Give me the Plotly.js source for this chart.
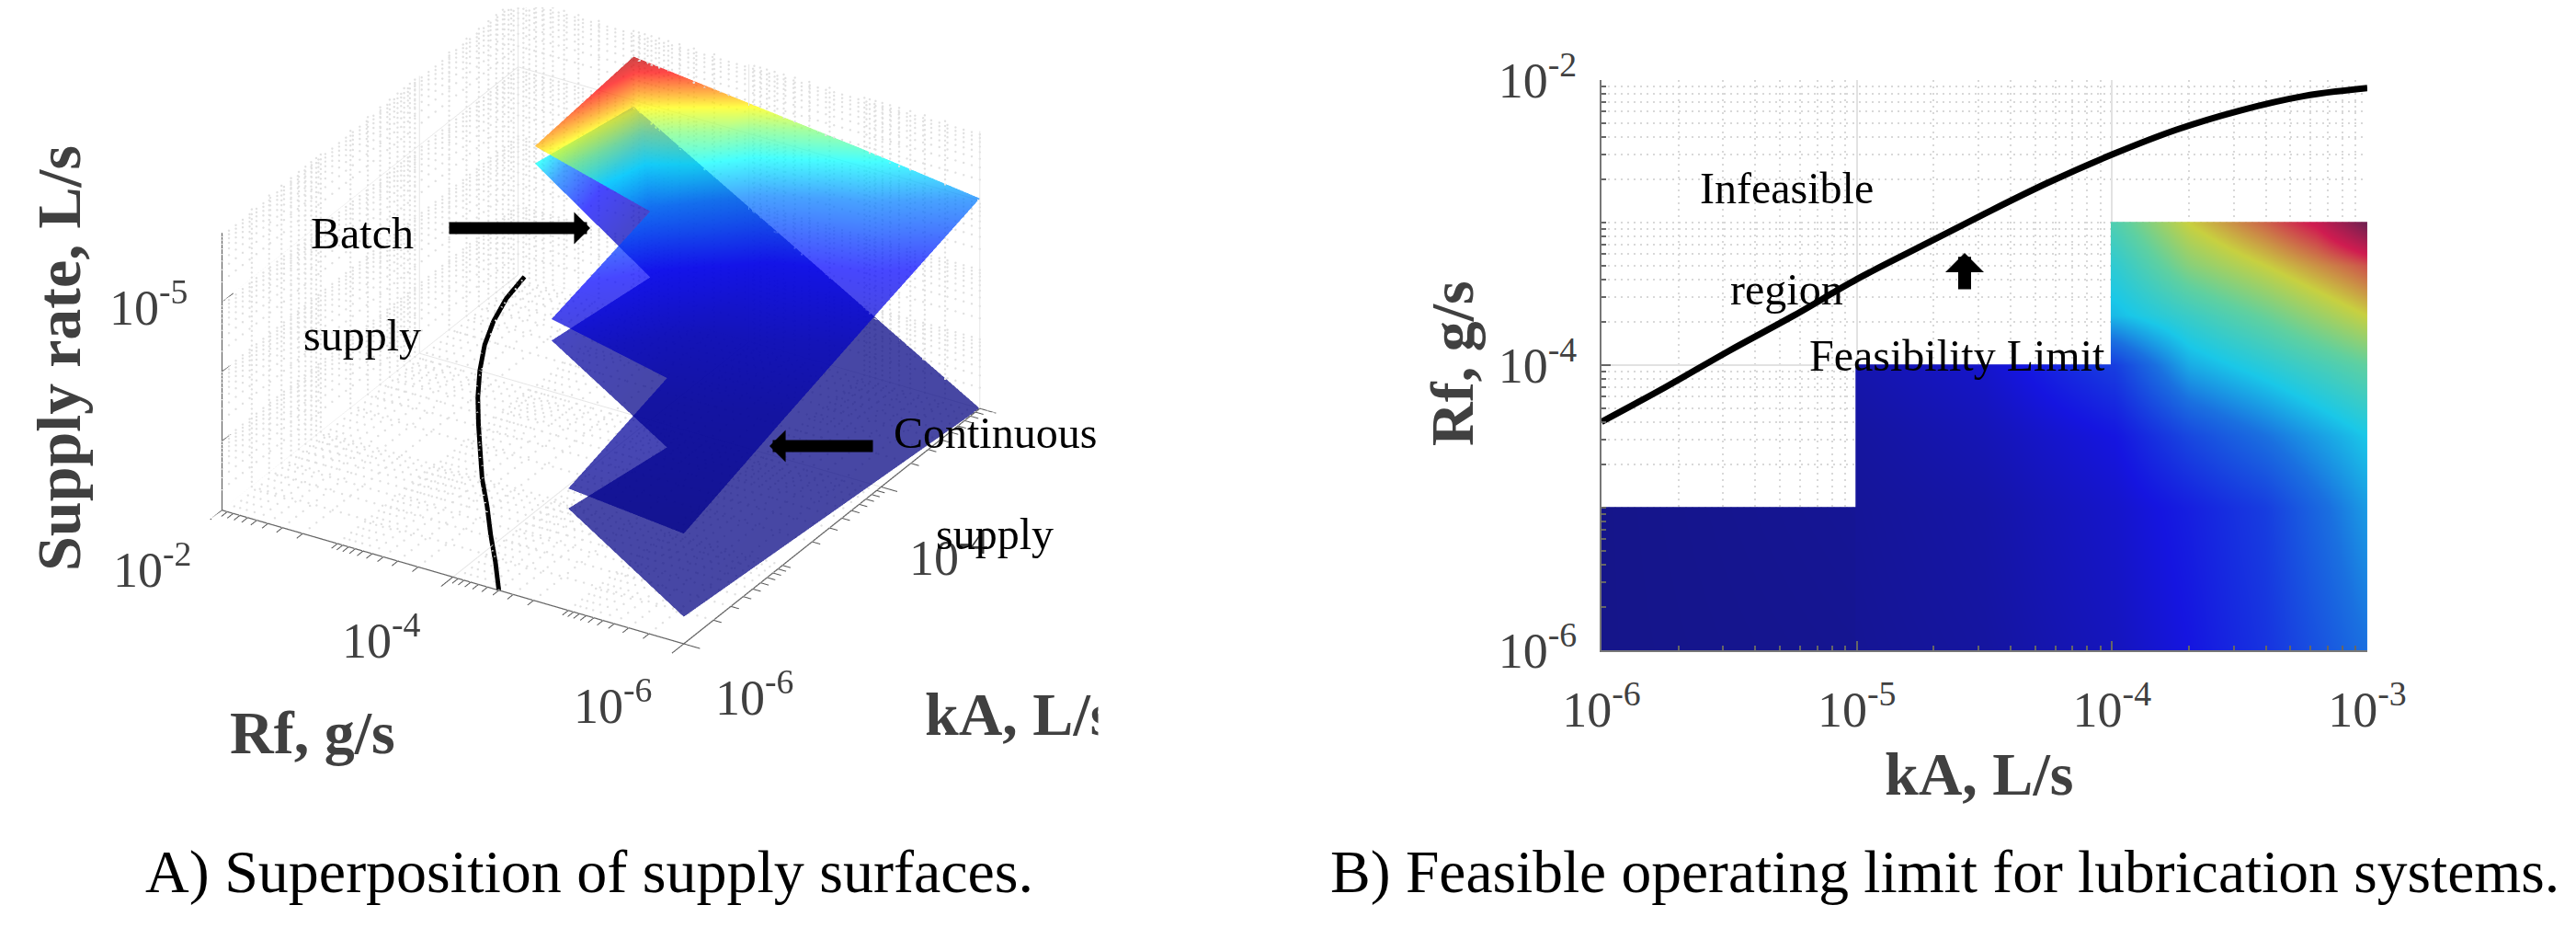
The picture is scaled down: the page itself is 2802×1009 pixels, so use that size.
<!DOCTYPE html>
<html><head><meta charset="utf-8">
<script src="https://cdn.plot.ly/plotly-3.0.1.min.js"></script>
<style>html,body{margin:0;padding:0;background:#fff}#c{width:2802px;height:1009px}</style>
</head><body><div id="c"></div>
<script>
// ---- limit curve (both panels)
const limitKA = [1e-6,1.78e-6,3.16e-6,5.6e-6,1e-5,1.78e-5,3.16e-5,5.6e-5,1e-4,1.8e-4,3.16e-4,5.6e-4,1e-3];
const limitRf = [4e-5,7e-5,1.26e-4,2.2e-4,4e-4,6.8e-4,1.15e-3,1.9e-3,3e-3,4.5e-3,6.1e-3,7.7e-3,8.8e-3];
// ---- panel A surfaces: vertices as decade exponents
const nodeKA = [-6,-5,-4,-3,-6,-5,-4,-3,-5,-4,-3,-4,-3];
const nodeRf = [-6,-6,-6,-6,-5,-5,-5,-5,-4,-4,-4,-3,-3];
const upperRate = [-6.41,-5.91,-5.43,-4.97,-6.24,-5.78,-5.28,-4.75,-5.41,-4.99,-4.56,-4.53,-4.37];
const lowerRate = [-7.61,-7.74,-7.87,-8.0,-6.53,-6.78,-6.91,-7.03,-5.72,-5.94,-6.06,-4.78,-5.09];
const triI = [0,0,1,1,2,2,5,5,6,6,9,9];
const triJ = [1,5,2,6,3,7,6,9,7,10,10,12];
const triK = [5,4,6,5,7,6,9,8,10,9,12,11];
const surfaceScale = [[0,'#00007f'],[0.44,'#000088'],[0.585,'#00009f'],[0.668,'#0000bf'],[0.752,'#0000ff'],[0.835,'#007fff'],[0.883,'#00ffff'],[0.917,'#7fff7f'],[0.944,'#ffff00'],[0.966,'#ff7f00'],[0.984,'#ff0000'],[1,'#c00000']];
// ---- panel B map: colour position on stair treads
const treadAx = [-6,-5.01,-5], treadAy = [-6,-5.01,-5];
const treadAz = [[0,0.01,0.015],[0,0.015,0.02],[0,0.015,0.02]];
const treadBx = [-5,-4.99,-4.5,-4], treadBy = [-6,-5,-4.5,-4.01,-4];
const treadBz = [[0.015,0.015,0.03,0.07],[0.02,0.02,0.04,0.09],[0.03,0.03,0.06,0.12],[0.05,0.05,0.09,0.20],[0.05,0.05,0.09,0.20]];
const treadCx = [-4,-3.99,-3.7,-3.4,-3.2,-3];
const treadCy = [-6,-5,-4.5,-4,-3.65,-3.3,-3.01,-3];
const treadCz = [
 [0.07,0.07,0.12,0.18,0.24,0.30],
 [0.09,0.09,0.14,0.20,0.28,0.36],
 [0.12,0.12,0.22,0.30,0.36,0.42],
 [0.20,0.20,0.38,0.45,0.50,0.55],
 [0.40,0.40,0.48,0.56,0.62,0.68],
 [0.46,0.46,0.60,0.68,0.74,0.80],
 [0.52,0.52,0.68,0.78,0.86,1.0],
 [0.52,0.52,0.68,0.78,0.86,1.0]];
const mapScale = [[0,'#15158a'],[0.12,'#1515e0'],[0.3,'#1a70e0'],[0.42,'#1ac8e8'],[0.55,'#60d0a0'],[0.68,'#c8d040'],[0.85,'#d01c50'],[1,'#702050']];
// ---- ticks
const decadeB = ['10<sup>-6</sup>','10<sup>-5</sup>','10<sup>-4</sup>','10<sup>-3</sup>'];
const rfTicksB = ['10<sup>-6</sup>','10<sup>-4</sup>','10<sup>-2</sup>'];
const mult = [2,3,4,5,6,7,8,9];
const kaDec = [-6,-5,-4], rfDec = [-6,-5,-4,-3], zDec = [-8,-7,-6,-5];

const W=2802,H=1009, px=x=>x/W, py=y=>1-y/H;
const P=e=>Math.pow(10,e);
function minors(decs,extra){const o=(extra||[]).slice();decs.forEach(d=>mult.forEach(m=>o.push(m*P(d))));return o;}
const kaM=minors(kaDec,[1e-5]), rfM=minors(rfDec,[1e-5,1e-3]), zM=minors(zDec,[1e-7,1e-6]);
const kaR=[1e-6,1e-3], rfR=[1e-6,1e-2], zR=[1e-8,1e-4];
function polyset(){const s={x:[],y:[],z:[],add(a,b){this.x.push(a[0],b[0],null);this.y.push(a[1],b[1],null);this.z.push(a[2],b[2],null);}};return s;}
const solid=polyset(), ticks=polyset();
// dotted minor grid on floor and the two back walls, as rows of dots
const dots={x:[],y:[],z:[]};
function dotRow(a,b){ // a,b are decade exponents
 const n=Math.round(Math.max(Math.abs(b[0]-a[0]),Math.abs(b[1]-a[1]),Math.abs(b[2]-a[2]))/0.07);
 for(let i=0;i<=n;i++){const t=i/n;dots.x.push(P(a[0]+t*(b[0]-a[0])));dots.y.push(P(a[1]+t*(b[1]-a[1])));dots.z.push(P(a[2]+t*(b[2]-a[2])));}
}
const L=Math.log10;
rfM.forEach(r=>dotRow([-6,L(r),-8],[-3,L(r),-8]));
kaM.forEach(k=>dotRow([L(k),-6,-8],[L(k),-2,-8]));
kaM.forEach(k=>dotRow([L(k),-2,-8],[L(k),-2,-4]));
zM.forEach(z=>dotRow([-6,-2,L(z)],[-3,-2,L(z)]));
rfM.forEach(r=>dotRow([-3,L(r),-8],[-3,L(r),-4]));
zM.forEach(z=>dotRow([-3,-6,L(z)],[-3,-2,L(z)]));
// solid major grid
[1e-4,1e-2].forEach(r=>solid.add([kaR[0],r,zR[0]],[kaR[1],r,zR[0]]));
[1e-4,1e-3].forEach(k=>solid.add([k,rfR[0],zR[0]],[k,rfR[1],zR[0]]));
[1e-4,1e-3].forEach(k=>solid.add([k,rfR[1],zR[0]],[k,rfR[1],zR[1]]));
[1e-4,1e-6].forEach(r=>solid.add([kaR[1],r,zR[0]],[kaR[1],r,zR[1]]));
solid.add([kaR[0],rfR[1],1e-5],[kaR[1],rfR[1],1e-5]);
solid.add([kaR[1],rfR[0],1e-5],[kaR[1],rfR[1],1e-5]);
// axis ticks, pointing out of the box
const kaOut=[-6.12,-6.06], rfOut=[-6.14,-6.07];
[1e-2,1e-4,1e-6].forEach(r=>ticks.add([kaR[0],r,zR[0]],[P(kaOut[0]),r,zR[0]]));
rfM.forEach(r=>ticks.add([kaR[0],r,zR[0]],[P(kaOut[1]),r,zR[0]]));
[1e-6,1e-4,1e-3].forEach(k=>ticks.add([k,rfR[0],zR[0]],[k,P(rfOut[0]),zR[0]]));
kaM.forEach(k=>ticks.add([k,rfR[0],zR[0]],[k,P(rfOut[1]),zR[0]]));
[1e-7,1e-6,1e-5].forEach(z=>ticks.add([kaR[0],rfR[1],z],[kaR[0]*1.3,rfR[1],z]));

const meshBase={type:'mesh3d',scene:'scene',x:nodeKA.map(P),y:nodeRf.map(P),i:triI,j:triJ,k:triK,
  colorscale:surfaceScale,cmin:-8,cmax:-4.37,showscale:false,opacity:0.72,flatshading:false,hoverinfo:'skip',
  lighting:{ambient:1,diffuse:0,specular:0,roughness:1,fresnel:0}};
const gray='#404040';
const L3=(s,c,w)=>({type:'scatter3d',mode:'lines',scene:'scene',x:s.x,y:s.y,z:s.z,line:{color:c,width:w},hoverinfo:'skip',showlegend:false});
const traces=[
 {type:'scatter3d',mode:'markers',scene:'scene',x:dots.x,y:dots.y,z:dots.z,marker:{size:1.4,color:'#e0e0e0',line:{width:0}},hoverinfo:'skip',showlegend:false},
 L3(solid,'#e6e6e6',2),
 L3(ticks,'#555',2),
 L3({x:[kaR[1],kaR[0],kaR[0],kaR[0]],y:[rfR[0],rfR[0],rfR[1],rfR[1]],z:[zR[0],zR[0],zR[0],zR[1]]},'#666',2.5),
 L3({x:limitKA,y:limitRf,z:limitKA.map(()=>1e-8)},'#000',10),
 Object.assign({},meshBase,{z:lowerRate.map(P),intensity:lowerRate}),
 Object.assign({},meshBase,{z:upperRate.map(P),intensity:upperRate}),
 {type:'scatter',mode:'lines',xaxis:'x',yaxis:'y',x:limitKA,y:limitRf,line:{color:'#000',width:7,shape:'spline'},hoverinfo:'skip',showlegend:false},
 {type:'heatmap',xaxis:'x2',yaxis:'y2',x:treadAx,y:treadAy,z:treadAz,zmin:0,zmax:1,zsmooth:'best',colorscale:mapScale,showscale:false,hoverinfo:'skip'},
 {type:'heatmap',xaxis:'x2',yaxis:'y2',x:treadBx,y:treadBy,z:treadBz,zmin:0,zmax:1,zsmooth:'best',colorscale:mapScale,showscale:false,hoverinfo:'skip'},
 {type:'heatmap',xaxis:'x2',yaxis:'y2',x:treadCx,y:treadCy,z:treadCz,zmin:0,zmax:1,zsmooth:'best',colorscale:mapScale,showscale:false,hoverinfo:'skip'}
];
const serif='Liberation Serif';
function txt(t,x,y,size,extra){return Object.assign({text:t,x:px(x),y:py(y),xref:'paper',yref:'paper',xanchor:'center',yanchor:'middle',showarrow:false,font:{family:serif,size:size,color:'#000'}},extra||{});}
function tick3(t,x,y){return txt(t,x,y,54,{font:{family:serif,size:54,color:gray}});}
function arrow(x0,y0,x1,y1,w,s){return {x:px(x1),y:py(y1),xref:'paper',yref:'paper',ax:x0-x1,ay:y0-y1,axref:'pixel',ayref:'pixel',text:'',showarrow:true,arrowhead:1,arrowsize:s,arrowwidth:w,arrowcolor:'#000'};}
const bold={family:serif,size:66,color:gray,weight:'bold'};
const annotations=[
 tick3('10<sup>-2</sup>',166,615),tick3('10<sup>-4</sup>',415,692),tick3('10<sup>-6</sup>',667,763),
 tick3('10<sup>-6</sup>',821,754),tick3('10<sup>-4</sup>',1032,602),tick3('10<sup>-5</sup>',162,330),
 txt('Supply rate, L/s',64,390,68,{textangle:-90,font:Object.assign({},bold,{size:68})}),
 txt('Rf, g/s',340,796,66,{font:bold}),
 txt('kA, L/s',1108,776,66,{font:bold}),
 {x:px(1194),y:py(776),xref:'paper',yref:'paper',xanchor:'left',yanchor:'middle',showarrow:false,text:' ',width:60,height:90,bgcolor:'#fff',font:{size:20}},
 txt('Batch',394,254,48),txt('supply',394,364,48),txt('Continuous',1082,470,48),txt('supply',1082,580,48),
 txt('Infeasible',1943,204,48),txt('region',1943,314,48),txt('Feasibility Limit',2129,387,48),
 arrow(487,248,642,248,13,0.45),arrow(951,485,837,485,13,0.45),arrow(2137,316,2137,275,14,0.5),
 txt('A) Superposition of supply surfaces.',641,948,66),
 txt('B) Feasible operating limit for lubrication systems.',2115,948,65.5),
 txt('Rf, g/s',1579,395,66,{textangle:-90,font:bold}),
 txt('kA, L/s',2152,841,66,{font:bold})
];
const axis3={type:'log',showgrid:false,showline:false,zeroline:false,showticklabels:false,ticks:'',title:{text:''},showbackground:false,showspikes:false};
const tickStyle={ticks:'inside',ticklen:10,tickwidth:2,tickcolor:'#666',gridcolor:'#e2e2e2',gridwidth:2,zeroline:false,showline:true,linecolor:'#777',linewidth:2,tickfont:{family:serif,size:54,color:gray}};
const minorStyle={showgrid:true,gridcolor:'#d8d8d8',griddash:'2px,5px',gridwidth:1.5,ticks:'inside',ticklen:5,tickwidth:2,tickcolor:'#666'};
const layout={
 width:W,height:H,margin:{l:0,r:0,t:0,b:0},paper_bgcolor:'#fff',plot_bgcolor:'rgba(0,0,0,0)',showlegend:false,
 annotations,
 scene:{domain:{x:[px(6),px(1306)],y:[py(732),py(8)]},bgcolor:'rgba(0,0,0,0)',
  aspectmode:'manual',aspectratio:{x:1.791,y:1.677,z:0.949},
  camera:{projection:{type:'orthographic'},eye:{x:-1.5,y:-0.905,z:0.914},up:{x:0,y:0,z:1},center:{x:0,y:0,z:-0.043}},
  xaxis:Object.assign({},axis3,{range:[-6.12,-3]}),
  yaxis:Object.assign({},axis3,{range:[-6.14,-2]}),
  zaxis:Object.assign({},axis3,{range:[-8,-4]})},
 xaxis:Object.assign({type:'log',domain:[px(1742),px(2575)],range:[-6,-3],anchor:'y',tickvals:[1e-6,1e-5,1e-4,1e-3],ticktext:decadeB,ticklabelstandoff:16,
  minor:Object.assign({},minorStyle,{tickvals:minors(kaDec)})},tickStyle),
 yaxis:Object.assign({type:'log',domain:[py(707),py(87)],range:[-6,-2],anchor:'x',tickvals:[1e-6,1e-4,1e-2],ticktext:rfTicksB,ticklabelstandoff:14,
  minor:Object.assign({},minorStyle,{tickvals:minors(rfDec,[1e-5,1e-3])})},tickStyle),
 xaxis2:{domain:[px(1742),px(2575)],range:[-6,-3],anchor:'y2',overlaying:'x',visible:false},
 yaxis2:{domain:[py(707),py(87)],range:[-6,-2],anchor:'x2',overlaying:'y',visible:false}
};
Plotly.newPlot('c',traces,layout,{displayModeBar:false});
</script></body></html>
